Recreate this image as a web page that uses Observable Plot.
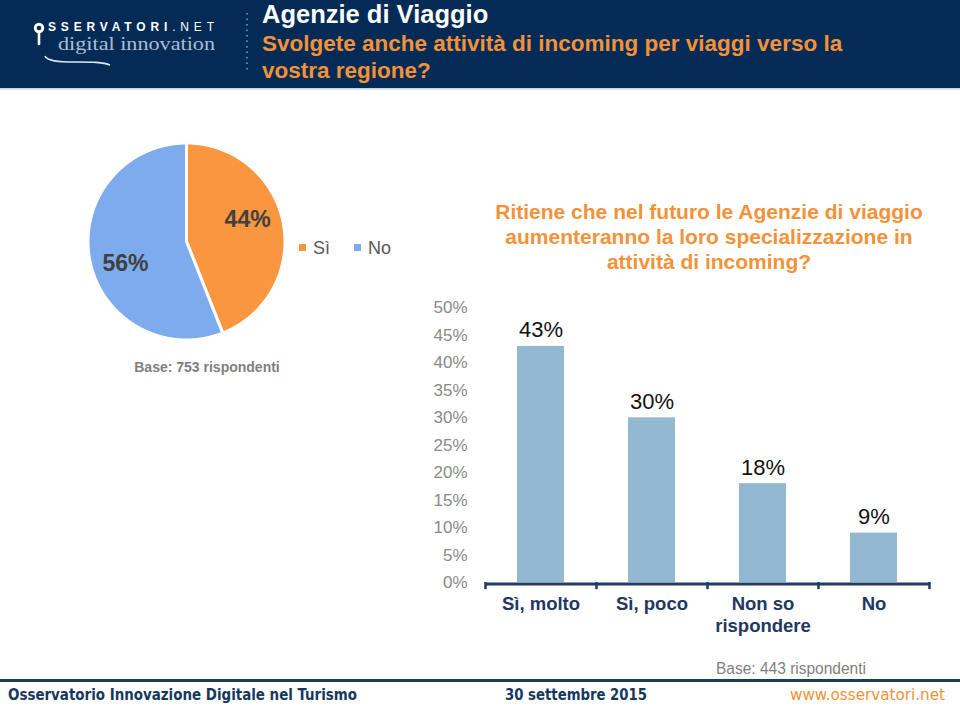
<!DOCTYPE html>
<html>
<head>
<meta charset="utf-8">
<script src="https://cdn.jsdelivr.net/npm/d3@7"></script>
<script src="https://cdn.jsdelivr.net/npm/@observablehq/plot@0.6"></script>
<style>
  body { margin: 0; background: #fff; }
  #page { position: relative; width: 960px; height: 707px; overflow: hidden; background: #fff; font-family: "Liberation Sans", Arial, sans-serif; }
  .abs { position: absolute; }
  #bg { position: absolute; left: 0; top: 0; }
  .legend-item { position: absolute; font-size: 18px; color: #595959; line-height: 20px; }
  .sw { display: inline-block; width: 7px; height: 7px; margin-right: 7px; vertical-align: 3px; }
</style>
</head>
<body>
<div id="page">
  <svg id="bg" width="960" height="707" xmlns="http://www.w3.org/2000/svg">
    <rect x="0" y="0" width="960" height="88" fill="#032b55"></rect>
    <rect x="0" y="88" width="960" height="1.5" fill="#c3d5e6"></rect>
    <!-- logo -->
    <circle cx="39" cy="28" r="5.2" fill="#ffffff"></circle>
    <circle cx="39" cy="28" r="2.3" fill="#032b55"></circle>
    <path d="M39,33 L39,44" stroke="#ffffff" stroke-width="2.6" stroke-linecap="round"></path>
    <text x="48" y="31" textLength="166" lengthAdjust="spacing" fill="#ffffff" font-family="Liberation Sans, Arial, sans-serif" font-size="12"><tspan font-weight="bold">SSERVATORI</tspan><tspan>.NET</tspan></text>
    <text x="58" y="50" textLength="157" lengthAdjust="spacingAndGlyphs" fill="#a9bed7" font-family="Liberation Serif, DejaVu Serif, serif" font-size="18">digital innovation</text>
    <path d="M45,56 C47,61 58,62 75,62 C92,62 103,62 110,65" fill="none" stroke="#dfe8f2" stroke-width="1.6"></path>
    <line x1="247" y1="13" x2="247" y2="71" stroke="#8aa1bb" stroke-width="1.5" stroke-dasharray="1.5 4"></line>
    <!-- header titles -->
    <text x="262" y="23.3" fill="#ffffff" font-family="Liberation Sans, Arial, sans-serif" font-weight="bold" font-size="25.5" id="t-title"></text>
    <text x="262" y="51" fill="#f39238" font-family="Liberation Sans, Arial, sans-serif" font-weight="bold" font-size="22.5" id="t-sub1"></text>
    <text x="262" y="78" fill="#f39238" font-family="Liberation Sans, Arial, sans-serif" font-weight="bold" font-size="22.5" id="t-sub2"></text>
    <!-- bar chart title -->
    <text x="709" y="219" text-anchor="middle" fill="#f39238" font-family="Liberation Sans, Arial, sans-serif" font-weight="bold" font-size="21" id="b-t1"></text>
    <text x="709" y="244" text-anchor="middle" fill="#f39238" font-family="Liberation Sans, Arial, sans-serif" font-weight="bold" font-size="21" id="b-t2"></text>
    <text x="709" y="269" text-anchor="middle" fill="#f39238" font-family="Liberation Sans, Arial, sans-serif" font-weight="bold" font-size="21" id="b-t3"></text>
    <!-- bases -->
    <text x="207" y="372" text-anchor="middle" fill="#7f7f7f" font-family="Liberation Sans, Arial, sans-serif" font-weight="bold" font-size="14" id="base1"></text>
    <text x="716" y="674" textLength="150" lengthAdjust="spacingAndGlyphs" fill="#7f7f7f" font-family="Liberation Sans Narrow, Liberation Sans, Arial, sans-serif" font-size="16" id="base2"></text>
    <!-- footer -->
    <rect x="0" y="679" width="960" height="3" fill="#1d3a61"></rect>
    <text x="8" y="700" textLength="349" lengthAdjust="spacingAndGlyphs" fill="#17375e" font-family="DejaVu Sans Condensed, DejaVu Sans, sans-serif" font-weight="bold" font-size="15" id="f1"></text>
    <text x="505" y="700" textLength="142" lengthAdjust="spacingAndGlyphs" fill="#17375e" font-family="DejaVu Sans Condensed, DejaVu Sans, sans-serif" font-weight="bold" font-size="15" id="f2"></text>
    <text x="790" y="700" textLength="155" lengthAdjust="spacingAndGlyphs" fill="#f39238" font-family="DejaVu Sans Condensed, DejaVu Sans, sans-serif" font-size="15" id="f3"></text>
  </svg>
  <div id="pie" class="abs" style="left:86px;top:141px;"></div>
  <div id="legend"></div>
  <div id="bars" class="abs" style="left:400px;top:290px;"></div>
</div>
<script>
// ---------- data ----------
const headerTitle = "Agenzie di Viaggio";
const headerSubtitle = ["Svolgete anche attività di incoming per viaggi verso la", "vostra regione?"];
const pieLabels = ["Sì", "No"];
const pieValues = [44, 56];
const pieColors = ["#fa9540", "#7eaaee"];
const pieBase = "Base: 753 rispondenti";

const barTitle = ["Ritiene che nel futuro le Agenzie di viaggio", "aumenteranno la loro specializzazione in", "attività di incoming?"];
const barCategories = ["Sì, molto", "Sì, poco", "Non so\nrispondere", "No"];
const barValues = [43, 30, 18, 9];
const yTicks = [0, 5, 10, 15, 20, 25, 30, 35, 40, 45, 50];
const barBase = "Base: 443 rispondenti";

const footerTexts = ["Osservatorio Innovazione Digitale nel Turismo", "30 settembre 2015", "www.osservatori.net"];

// ---------- static texts ----------
document.getElementById("t-title").textContent = headerTitle;
document.getElementById("t-sub1").textContent = headerSubtitle[0];
document.getElementById("t-sub2").textContent = headerSubtitle[1];
barTitle.forEach((t, i) => document.getElementById("b-t" + (i + 1)).textContent = t);
document.getElementById("base1").textContent = pieBase;
document.getElementById("base2").textContent = barBase;
footerTexts.forEach((t, i) => document.getElementById("f" + (i + 1)).textContent = t);

// ---------- pie ----------
const arcs = d3.pie().sort(null)(pieValues);
const pieOutline = arcs.flatMap((a, i) => {
  const n = Math.ceil((a.endAngle - a.startAngle) / 0.01);
  const pts = [{slice: pieLabels[i], x: 0, y: 0}];
  for (let k = 0; k <= n; k++) {
    const t = a.startAngle + (a.endAngle - a.startAngle) * k / n;
    pts.push({slice: pieLabels[i], x: Math.sin(t), y: Math.cos(t)});
  }
  pts.push({slice: pieLabels[i], x: 0, y: 0});
  return pts;
});
const labelAngleShift = -0.16, labelRadius = 0.66;
const pieText = arcs.map((a, i) => {
  const m = (a.startAngle + a.endAngle) / 2 + labelAngleShift;
  return {slice: pieLabels[i], text: pieValues[i] + "%", x: labelRadius * Math.sin(m), y: labelRadius * Math.cos(m)};
});

const piePlot = Plot.plot({
  width: 200, height: 200,
  margin: 1.5,
  style: {background: "transparent", overflow: "visible", fontFamily: "Liberation Sans, Arial, sans-serif"},
  x: {domain: [-1, 1], axis: null},
  y: {domain: [-1, 1], axis: null},
  color: {domain: pieLabels, range: pieColors},
  marks: [
    Plot.line(pieOutline, {x: "x", y: "y", z: "slice", fill: "slice", stroke: "#ffffff", strokeWidth: 3, strokeLinejoin: "round", curve: "linear"}),
    Plot.text(pieText, {x: "x", y: "y", text: "text", fill: "#404040", fontSize: 23, fontWeight: "bold"})
  ]
});
document.getElementById("pie").appendChild(piePlot);

// legend
const legend = document.getElementById("legend");
const legendX = [299, 354];
pieLabels.forEach((lab, i) => {
  const d = document.createElement("div");
  d.className = "legend-item";
  d.style.left = legendX[i] + "px";
  d.style.top = "238px";
  d.innerHTML = `<span class="sw" style="background:${pieColors[i]}"></span>${lab}`;
  legend.appendChild(d);
});

// ---------- bars ----------
const barData = barCategories.map((c, i) => ({cat: c, value: barValues[i]}));
const navy = "#213b63";
const barPlot = Plot.plot({
  width: 560, height: 350,
  marginLeft: 85, marginRight: 31, marginTop: 17.5, marginBottom: 58,
  style: {background: "transparent", overflow: "visible", fontFamily: "Liberation Sans, Arial, sans-serif", fontSize: "17px", color: "#8a8a8a"},
  x: {domain: barCategories, padding: 0, axis: null},
  y: {domain: [0, 50], ticks: yTicks, tickFormat: d => d + "%", tickSize: 0, tickPadding: 18, label: null},
  marks: [
    Plot.barY(barData, {x: "cat", y: "value", fill: "#93b8d2", insetLeft: 32, insetRight: 32}),
    Plot.ruleY([0], {stroke: navy, strokeWidth: 3, dy: 1.5}),
    Plot.ruleX(barCategories, {x: d => d, y1: 0, y2: -1.3, dx: -55.5, stroke: navy, strokeWidth: 2.5}),
    Plot.ruleX(barCategories.slice(-1), {x: d => d, y1: 0, y2: -1.3, dx: 55.5, stroke: navy, strokeWidth: 2.5}),
    Plot.text(barData, {x: "cat", y: "value", text: d => d.value + "%", dy: -9, lineAnchor: "bottom", fill: "#111111", fontSize: 22}),
    Plot.text(barData, {x: "cat", y: 0, text: "cat", dy: 12, lineAnchor: "top", fill: "#1f3763", fontSize: 18.5, fontWeight: "bold", lineHeight: 1.2})
  ]
});
document.getElementById("bars").appendChild(barPlot);
</script>
</body>
</html>
